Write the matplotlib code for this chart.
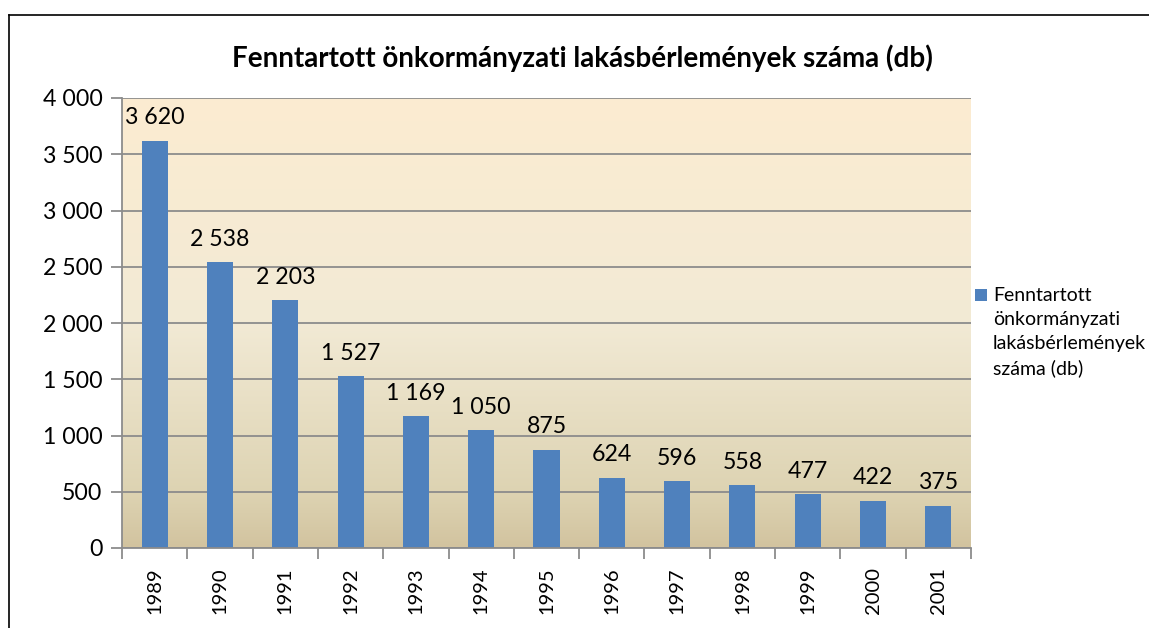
# Libraries

import numpy as np
import matplotlib.pyplot as plt
from matplotlib.lines import Line2D
from matplotlib.patches import Rectangle
from matplotlib.container import BarContainer
from matplotlib.legend_handler import HandlerPatch, update_from_first_child
from matplotlib.colors import LinearSegmentedColormap
from matplotlib.ticker import FuncFormatter, FixedLocator

# Data

Evek = ["1989", "1990", "1991", "1992", "1993", "1994", "1995",
        "1996", "1997", "1998", "1999", "2000", "2001"]
Lakasok = [3620, 2538, 2203, 1527, 1169, 1050, 875, 624, 596, 558, 477, 422, 375]

Cim = "Fenntartott önkormányzati lakásbérlemények száma (db)"
Jelmagyarazat = "Fenntartott\nönkormányzati\nlakásbérlemények\nszáma (db)"

SORKOZ = 1.49

def ezres(v, pos=None):
    return f"{int(v):,}".replace(",", " ")

# legend square next to the first line of the label (Excel style)
# the handle's origin sits near the middle of the 4-line label
def kocka(legend, orig_handle, xdescent, ydescent, width, height, fontsize):
    s = 0.62 * fontsize
    d = 0.83 * fontsize * SORKOZ
    return Rectangle((-xdescent, 1.5 * d + 1.1), s, s)

plt.rcParams['font.family'] = ['Lato', 'DejaVu Sans']

W, H = 1149, 628
fig = plt.figure(figsize=(W / 100, H / 100), dpi=100)
ax = fig.add_axes([122 / W, 1 - 548 / H, 849 / W, 450 / H])

x = np.arange(len(Evek))

# Background gradient
cmap = LinearSegmentedColormap.from_list(
    "bg", [(0.0, "#d2c39f"), (0.12, "#ddd3b2"), (0.5, "#f2ead5"),
           (1.0, "#fcecd1")])
grad = np.linspace(0, 1, 256).reshape(-1, 1)
ax.imshow(grad, cmap=cmap, aspect="auto", origin="lower",
          extent=[-0.5, len(Evek) - 0.5, 0, 4000], zorder=0)

ax.set_xlim(-0.5, len(Evek) - 0.5)
ax.set_ylim(0, 4000)

ax.yaxis.grid(True, color="#8c8c8c", linewidth=1.3, zorder=1)
ax.set_axisbelow(True)

ax.bar(x, Lakasok, width=0.4, color="#4f81bd", zorder=2, label=Jelmagyarazat)

for xi, v in zip(x, Lakasok):
    ax.text(xi, v + 110, ezres(v), ha="center", va="bottom", fontsize=16.7,
            zorder=3)

ax.yaxis.set_major_locator(FixedLocator(range(0, 4001, 500)))
ax.yaxis.set_major_formatter(FuncFormatter(ezres))
ax.tick_params(axis="y", labelsize=16.7, length=8, width=1.3, color="#8c8c8c",
               pad=6)

ax.set_xticks(x)
ax.set_xticklabels(Evek, rotation=90, fontsize=14.5)
ax.tick_params(axis="x", length=0, pad=14)
ax.set_xticks(np.arange(-0.5, len(Evek), 1), minor=True)
ax.tick_params(axis="x", which="minor", length=8, width=1.3, color="#8c8c8c")

for s in ["top", "right"]:
    ax.spines[s].set_visible(False)
for s in ["left", "bottom"]:
    ax.spines[s].set_color("#8c8c8c")
    ax.spines[s].set_linewidth(1.3)

fig.text(582 / W, 1 - 58 / H, Cim, ha="center", va="center",
         fontsize=20, fontweight="bold")

leg = fig.legend(loc="upper left", bbox_to_anchor=(975 / W, 1 - 287 / H),
                 frameon=False, fontsize=14, handlelength=0.62,
                 handleheight=0.7, handletextpad=0.3, borderpad=0,
                 borderaxespad=0,
                 handler_map={BarContainer: HandlerPatch(
                     patch_func=kocka, update_func=update_from_first_child)})
for t in leg.get_texts():
    t.set_linespacing(SORKOZ)

# Frame
fig.add_artist(Line2D([9 / W, 9 / W], [0, 1 - 15 / H], color="black",
                      linewidth=1.2, transform=fig.transFigure))
fig.add_artist(Line2D([9 / W, 1], [1 - 15 / H, 1 - 15 / H], color="black",
                      linewidth=1.2, transform=fig.transFigure))

fig.savefig("out.png", dpi=100)
